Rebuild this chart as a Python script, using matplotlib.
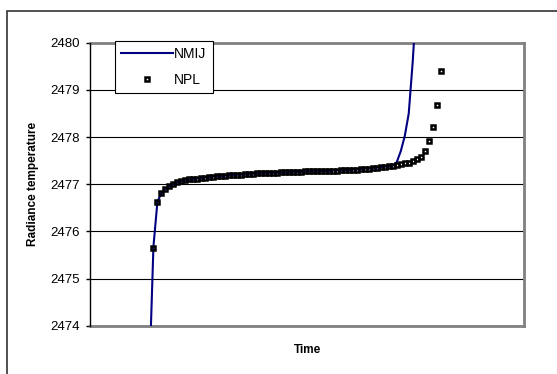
import numpy as np
import matplotlib
matplotlib.use("Agg")
import matplotlib.pyplot as plt
from matplotlib.patches import Rectangle

plt.rcParams['font.family'] = ['Liberation Sans', 'DejaVu Sans']

# NPL readings, one per time step (index 0..72)
npl_values = [
    2475.65, 2476.62, 2476.81, 2476.90, 2476.96, 2477.00, 2477.04, 2477.06,
    2477.08, 2477.10, 2477.11, 2477.12, 2477.13, 2477.14, 2477.15, 2477.16,
    2477.17, 2477.17, 2477.18, 2477.19, 2477.19, 2477.20, 2477.20, 2477.21,
    2477.22, 2477.22, 2477.23, 2477.23, 2477.23, 2477.24, 2477.24, 2477.24,
    2477.25, 2477.25, 2477.25, 2477.26, 2477.26, 2477.26, 2477.27, 2477.27,
    2477.27, 2477.27, 2477.28, 2477.28, 2477.28, 2477.29, 2477.29, 2477.30,
    2477.30, 2477.30, 2477.31, 2477.31, 2477.32, 2477.33, 2477.33, 2477.34,
    2477.35, 2477.36, 2477.37, 2477.38, 2477.39, 2477.41, 2477.42, 2477.44,
    2477.46, 2477.49, 2477.53, 2477.58, 2477.71, 2477.92, 2478.21, 2478.69,
    2479.39,
]
npl_start = 0

# NMIJ readings start one step earlier (index -1..66)
nmij_values = [
    2473.00, 2475.68, 2476.63, 2476.81, 2476.90, 2476.96, 2477.00, 2477.04,
    2477.06, 2477.08, 2477.10, 2477.11, 2477.12, 2477.13, 2477.14, 2477.15,
    2477.16, 2477.17, 2477.17, 2477.18, 2477.19, 2477.19, 2477.20, 2477.20,
    2477.21, 2477.22, 2477.22, 2477.23, 2477.23, 2477.23, 2477.24, 2477.24,
    2477.24, 2477.25, 2477.25, 2477.25, 2477.26, 2477.26, 2477.26, 2477.27,
    2477.27, 2477.27, 2477.27, 2477.28, 2477.28, 2477.28, 2477.29, 2477.29,
    2477.30, 2477.30, 2477.30, 2477.31, 2477.31, 2477.32, 2477.33, 2477.33,
    2477.34, 2477.35, 2477.36, 2477.37, 2477.38, 2477.39, 2477.47, 2477.70,
    2478.02, 2478.50, 2479.60, 2481.00,
]
nmij_start = -1

y_ticks = [2474, 2475, 2476, 2477, 2478, 2479, 2480]


def main():
    fig = plt.figure(figsize=(5.57, 3.74), dpi=100)
    ax = fig.add_axes([0.1616, 0.1291, 0.7792, 0.7567])

    # outer chart border (runs off the right and bottom edges)
    fig.patches.append(Rectangle((7 / 557, -0.1), 1.2, 1 - 11 / 374 + 0.1,
                                 transform=fig.transFigure, fill=False,
                                 edgecolor='#333333', linewidth=1.2))

    t_nmij = np.arange(len(nmij_values)) + nmij_start
    t_npl = np.arange(len(npl_values)) + npl_start

    ax.plot(t_nmij, nmij_values, color='#000080', linewidth=1.5,
            label='NMIJ', zorder=3)
    ax.plot(t_npl, npl_values, linestyle='none', marker='s', markersize=3.4,
            markeredgewidth=1.8, markeredgecolor='black',
            markerfacecolor='none', label='NPL', zorder=4)

    ax.set_xlim(-15.9, 92.9)
    ax.set_ylim(2474, 2480)
    ax.set_yticks(y_ticks)
    ax.set_xticks([])
    ax.yaxis.grid(True, color='black', linewidth=0.8)
    ax.set_axisbelow(True)

    for side in ['top', 'right', 'bottom']:
        ax.spines[side].set_color('#808080')
        ax.spines[side].set_linewidth(2.0)
    ax.spines['left'].set_color('black')
    ax.spines['left'].set_linewidth(1.0)
    ax.spines['left'].set_zorder(5)

    ax.tick_params(axis='y', direction='out', length=3, width=1,
                   labelsize=9.5, pad=4)

    ax.set_ylabel('Radiance temperature', fontsize=8.5, fontweight='bold')
    ax.yaxis.set_label_coords(-0.118, 0.5)
    ax.set_xlabel('Time', fontsize=8.5, fontweight='bold')
    ax.xaxis.set_label_coords(0.502, -0.063)

    leg = ax.legend(loc='upper left', bbox_to_anchor=(0.0576, 1.007),
                    borderaxespad=0, fontsize=10, frameon=True,
                    fancybox=False, handlelength=3.7, handletextpad=0.1,
                    labelspacing=0.85, borderpad=0.45)
    leg.get_frame().set_edgecolor('black')
    leg.get_frame().set_linewidth(0.8)
    leg.get_frame().set_alpha(1)
    leg.set_zorder(6)

    plt.savefig('out.png', dpi=100)


if __name__ == "__main__":
    main()
